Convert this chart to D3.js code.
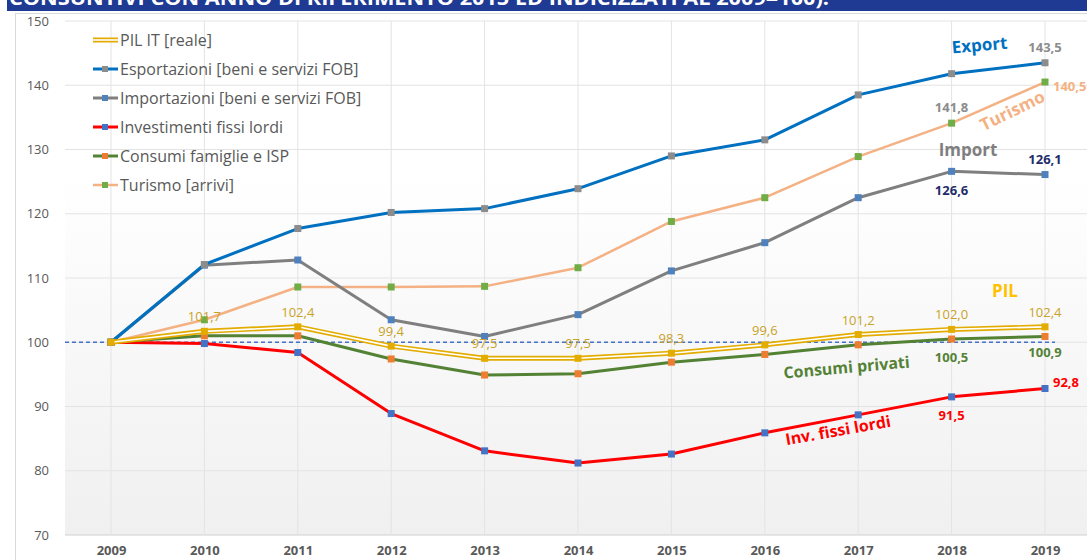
<!DOCTYPE html>
<html>
<head>
<meta charset="utf-8">
<script src="https://cdn.jsdelivr.net/npm/d3@7"></script>
<style>
  body { margin:0; background:#fff; }
  svg text { font-family:"Open Sans", "Liberation Sans", sans-serif; }
</style>
</head>
<body>
<svg id="chart" width="1087" height="560"></svg>
<script>
// dati (indici 2009 = 100)
var anni = [2009, 2010, 2011, 2012, 2013, 2014, 2015, 2016, 2017, 2018, 2019];
var pil = [100, 101.7, 102.4, 99.4, 97.5, 97.5, 98.3, 99.6, 101.2, 102.0, 102.4];
var esportazioni = [100, 112.1, 117.7, 120.2, 120.8, 123.9, 129.0, 131.5, 138.5, 141.8, 143.5];
var importazioni = [100, 112.0, 112.8, 103.5, 100.9, 104.3, 111.1, 115.5, 122.5, 126.6, 126.1];
var investimenti = [100, 99.8, 98.4, 88.9, 83.1, 81.2, 82.6, 85.9, 88.7, 91.5, 92.8];
var consumi = [100, 101.0, 101.0, 97.4, 94.9, 95.1, 96.9, 98.1, 99.6, 100.5, 100.9];
var turismo = [100, 103.5, 108.6, 108.6, 108.7, 111.6, 118.8, 122.5, 128.9, 134.1, 140.5];
var yTicks = [70, 80, 90, 100, 110, 120, 130, 140, 150];

var svg = d3.select('#chart');

// banda del titolo (tagliata in alto)
svg.append('rect').attr('x', 7).attr('y', 0).attr('width', 1080).attr('height', 11).attr('fill', '#1f3a93');
var clip = svg.append('clipPath').attr('id', 'clipTitolo');
clip.append('rect').attr('x', 7).attr('y', 0).attr('width', 1080).attr('height', 11);
svg.append('text')
  .attr('clip-path', 'url(#clipTitolo)')
  .attr('x', 9).attr('y', 5)
  .attr('fill', '#fff').attr('font-weight', 'bold').attr('font-size', 20)
  .attr('textLength', 820).attr('lengthAdjust', 'spacingAndGlyphs')
  .text('CONSUNTIVI CON ANNO DI RIFERIMENTO 2015 ED INDICIZZATI AL 2009=100).');

// cornice del grafico
svg.append('line').attr('x1', 15).attr('x2', 1087).attr('y1', 13.5).attr('y2', 13.5).attr('stroke', '#d9d9d9');
svg.append('line').attr('x1', 15.5).attr('x2', 15.5).attr('y1', 13).attr('y2', 560).attr('stroke', '#d9d9d9');

var x = d3.scalePoint().domain(anni).range([111, 1045]);
var y = d3.scaleLinear().domain([70, 150]).range([535, 21]);

// sfondo sfumato dell'area del grafico
var defs = svg.append('defs');
var grad = defs.append('linearGradient').attr('id', 'sfondo').attr('x1', 0).attr('x2', 0).attr('y1', 0).attr('y2', 1);
grad.append('stop').attr('offset', '0%').attr('stop-color', '#ffffff');
grad.append('stop').attr('offset', '30%').attr('stop-color', '#ffffff');
grad.append('stop').attr('offset', '100%').attr('stop-color', '#f0f0f0');
svg.append('rect').attr('x', 65).attr('y', y(150)).attr('width', 1022).attr('height', y(70) - y(150)).attr('fill', 'url(#sfondo)');

// griglia
svg.append('g').selectAll('line').data(yTicks).enter().append('line')
  .attr('x1', 65).attr('x2', 1087)
  .attr('y1', function(d){ return y(d); }).attr('y2', function(d){ return y(d); })
  .attr('stroke', function(d){ return d == 70 ? '#d0d0d0' : '#e3e3e3'; }).attr('stroke-width', 1);
svg.append('g').selectAll('line').data(anni).enter().append('line')
  .attr('x1', function(d){ return x(d); }).attr('x2', function(d){ return x(d); })
  .attr('y1', y(150)).attr('y2', y(70))
  .attr('stroke', '#e3e3e3');

// assi
var assey = svg.append('g').attr('transform', 'translate(49,0)')
  .call(d3.axisLeft(y).tickValues(yTicks).tickSize(0).tickPadding(0));
assey.select('.domain').remove();
assey.selectAll('text').attr('font-size', 13).attr('fill', '#595959').attr('font-family', '"Open Sans", sans-serif');

var assex = svg.append('g').attr('transform', 'translate(0,' + y(70) + ')')
  .call(d3.axisBottom(x).tickSize(0).tickPadding(11).tickFormat(d3.format('d')));
assex.select('.domain').remove();
assex.selectAll('text').attr('font-size', 13).attr('font-weight', 'bold').attr('fill', '#595959').attr('font-family', '"Open Sans", sans-serif');

// linea di riferimento a 100
svg.append('line').attr('x1', 65).attr('x2', 1055).attr('y1', y(100)).attr('y2', y(100))
  .attr('stroke', '#4472c4').attr('stroke-width', 1.3).attr('stroke-dasharray', '4,3');

var linea = d3.line().x(function(d, i){ return x(anni[i]); }).y(function(d){ return y(d); });

var serie = [
  { nome: 'Turismo [arrivi]', valori: turismo, colore: '#f4b183', larg: 2.5, marker: '#70ad47' },
  { nome: 'Investimenti fissi lordi', valori: investimenti, colore: '#ff0000', larg: 3, marker: '#4472c4' },
  { nome: 'Consumi famiglie e ISP', valori: consumi, colore: '#548235', larg: 3, marker: '#ed7d31' },
  { nome: 'Importazioni [beni e servizi FOB]', valori: importazioni, colore: '#7f7f7f', larg: 3, marker: '#4f81bd' },
  { nome: 'Esportazioni [beni e servizi FOB]', valori: esportazioni, colore: '#0070c0', larg: 3, marker: '#8c8c8c' },
  { nome: 'PIL IT [reale]', valori: pil, colore: '#e2ac00', larg: 5, marker: '#e2ac00', doppia: true }
];

serie.forEach(function(s){
  svg.append('path').datum(s.valori).attr('d', linea)
    .attr('fill', 'none').attr('stroke', s.colore).attr('stroke-width', s.larg).attr('stroke-linejoin', 'round');
  if (s.doppia) {
    svg.append('path').datum(s.valori).attr('d', linea)
      .attr('fill', 'none').attr('stroke', '#fff').attr('stroke-width', 1.6).attr('stroke-linejoin', 'round');
  }
  svg.append('g').selectAll('rect').data(s.valori).enter().append('rect')
    .attr('x', function(d, i){ return x(anni[i]) - 3.5; })
    .attr('y', function(d){ return y(d) - 3.5; })
    .attr('width', 7).attr('height', 7)
    .attr('fill', s.marker);
});

// legenda
var legendaOrdine = [5, 4, 3, 1, 2, 0];
legendaOrdine.forEach(function(k, i){
  var s = serie[k];
  var ly = 40 + i * 29;
  svg.append('line').attr('x1', 93).attr('x2', 118).attr('y1', ly).attr('y2', ly)
    .attr('stroke', s.colore).attr('stroke-width', s.doppia ? 5 : s.larg);
  if (s.doppia) {
    svg.append('line').attr('x1', 93).attr('x2', 118).attr('y1', ly).attr('y2', ly)
      .attr('stroke', '#fff').attr('stroke-width', 1.6);
  } else {
    svg.append('rect').attr('x', 102).attr('y', ly - 3).attr('width', 6).attr('height', 6).attr('fill', s.marker);
  }
  svg.append('text').attr('x', 120).attr('y', ly + 6).attr('font-size', 16).attr('fill', '#595959')
    .text(s.nome);
});

// etichette PIL
var fmt = function(v){ return d3.format('.1f')(v).replace('.', ','); };
svg.append('g').selectAll('text').data(pil.slice(1)).enter().append('text')
  .attr('x', function(d, i){ return x(anni[i + 1]); })
  .attr('y', function(d){ return y(d) - 10; })
  .attr('text-anchor', 'middle').attr('font-size', 13).attr('fill', '#c9a227')
  .text(function(d){ return fmt(d); });

// etichette puntuali
function etichetta(anno, valore, testo, dx, dy, colore, grassetto, anchor) {
  svg.append('text').attr('x', x(anno) + dx).attr('y', y(valore) + dy)
    .attr('text-anchor', anchor || 'middle').attr('font-size', 13)
    .attr('font-weight', grassetto ? 'bold' : 'normal').attr('fill', colore)
    .text(testo);
}
etichetta(2018, esportazioni[9], fmt(esportazioni[9]), 0, 38, '#8c8c8c', true);
etichetta(2019, esportazioni[10], fmt(esportazioni[10]), 0, -11, '#8c8c8c', true);
etichetta(2019, turismo[10], fmt(turismo[10]), 8, 9, '#f4b183', true, 'start');
etichetta(2018, importazioni[9], fmt(importazioni[9]), 0, 24, '#1f2d6b', true);
etichetta(2019, importazioni[10], fmt(importazioni[10]), 0, -11, '#1f2d6b', true);
etichetta(2018, consumi[9], fmt(consumi[9]), 0, 23, '#548235', true);
etichetta(2019, consumi[10], fmt(consumi[10]), 0, 21, '#548235', true);
etichetta(2018, investimenti[9], fmt(investimenti[9]), 0, 23, '#ff0000', true);
etichetta(2019, investimenti[10], fmt(investimenti[10]), 8, -2, '#ff0000', true, 'start');

// nomi delle serie sul grafico
function nome(testo, cx, cy, ang, colore, size) {
  svg.append('text').attr('transform', 'translate(' + cx + ',' + cy + ') rotate(' + ang + ')')
    .attr('text-anchor', 'middle').attr('font-size', size).attr('font-weight', 'bold')
    .attr('fill', colore).text(testo);
}
nome('Export', 980, 51, -5, '#0070c0', 17);
nome('Turismo', 1015, 116, -26, '#f4b183', 17);
nome('Import', 968, 156, 0, '#7f7f7f', 17);
nome('PIL', 1005, 297, 0, '#ffc000', 17);
nome('Consumi privati', 847, 373, -5, '#548235', 16);
nome('Inv. fissi lordi', 839, 436, -10, '#ff0000', 16);
</script>
</body>
</html>
